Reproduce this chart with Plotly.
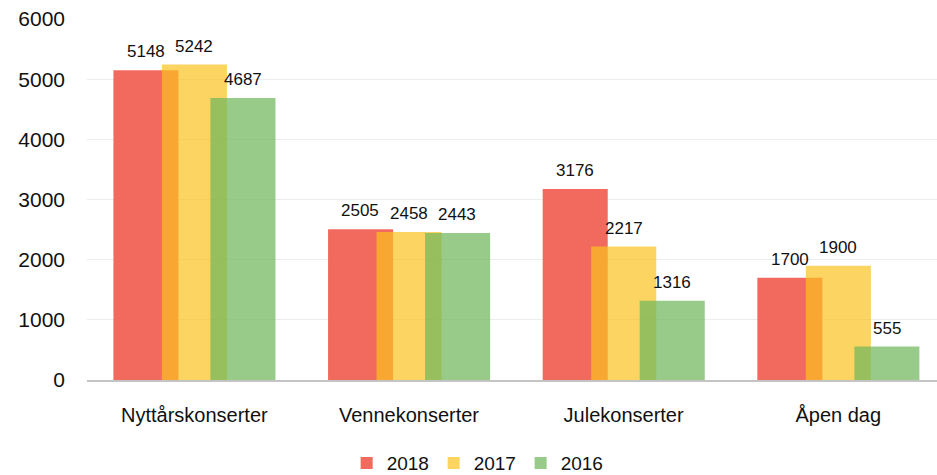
import plotly.graph_objects as go

categories = ["Nyttårskonserter", "Vennekonserter", "Julekonserter", "Åpen dag"]
years = ["2018", "2017", "2016"]
values_2018 = [5148, 2505, 3176, 1700]
values_2017 = [5242, 2458, 2217, 1900]
values_2016 = [4687, 2443, 1316, 555]

series = [values_2018, values_2017, values_2016]
colors = ["rgb(242,106,94)", "rgba(249,194,31,0.7)", "rgba(112,183,91,0.72)"]
offsets = [-0.377, -0.151, 0.075]
label_shift = [-48.5, 0, 48.5]

fig = go.Figure()
for year, vals, col, off in zip(years, series, colors, offsets):
    fig.add_trace(go.Bar(
        x=categories, y=vals, name=year,
        marker=dict(color=col, line=dict(width=0)),
        width=0.303, offset=off,
        hoverinfo="x+y+name",
    ))

# value labels above each bar
for vals, shift in zip(series, label_shift):
    for cat, v in zip(categories, vals):
        fig.add_annotation(x=cat, y=v, text=str(v), showarrow=False,
                           xshift=shift, yshift=7, yanchor="bottom",
                           font=dict(size=17, color="#111"))

fig.update_layout(
    barmode="overlay",
    width=937, height=475,
    margin=dict(l=87, r=0, t=19, b=95),
    paper_bgcolor="white", plot_bgcolor="white",
    font=dict(family="Liberation Sans, Arial, sans-serif", color="#111"),
    legend=dict(orientation="h", x=0.459, xanchor="center",
                yref="container", y=0.025, yanchor="middle",
                font=dict(size=19), itemwidth=30, entrywidth=42,
                traceorder="normal"),
    xaxis=dict(range=[-0.5, 3.46], showline=True, linecolor="#c4c4c4", linewidth=2,
               tickfont=dict(size=20), ticks="", showgrid=False,
               ticklabelstandoff=16, automargin=False),
    yaxis=dict(range=[0, 6000], dtick=1000, gridcolor="#ececec", gridwidth=1,
               tickfont=dict(size=21), ticklabelstandoff=21, zeroline=False,
               automargin=False),
)

# drop the default page margin so the figure sits at the window's top-left
fig.write_html("out.html", config={"displayModeBar": False},
               post_script="document.body.style.margin='0';")
